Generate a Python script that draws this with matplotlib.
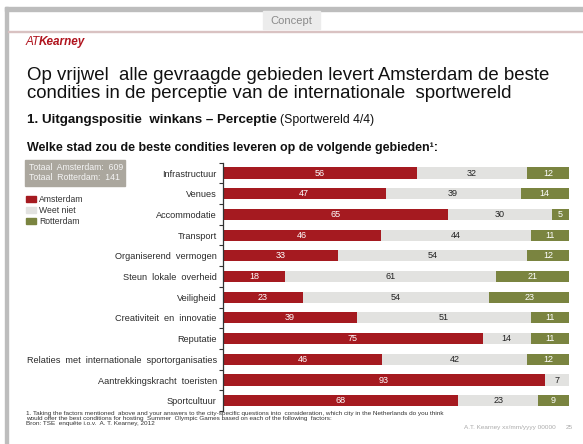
import matplotlib
matplotlib.use("Agg")
import matplotlib.pyplot as plt
from matplotlib.patches import Rectangle
import numpy as np

categories = ["Infrastructuur", "Venues", "Accommodatie", "Transport",
              "Organiserend  vermogen", "Steun  lokale  overheid", "Veiligheid",
              "Creativiteit  en  innovatie", "Reputatie",
              "Relaties  met  internationale  sportorganisaties",
              "Aantrekkingskracht  toeristen", "Sportcultuur"]
amsterdam = [56, 47, 65, 46, 33, 18, 23, 39, 75, 46, 93, 68]
weet_niet = [32, 39, 30, 44, 54, 61, 54, 51, 14, 42, 7, 23]
rotterdam = [12, 14, 5, 11, 12, 21, 23, 11, 11, 12, 0, 9]
series_names = ["Amsterdam", "Weet niet", "Rotterdam"]
colors = ["#A51A20", "#E2E2E0", "#7A8440"]
label_colors = ["white", "#222222", "white"]

W, H = 583, 444
plt.rcParams['font.family'] = ['Liberation Sans', 'DejaVu Sans']
fig = plt.figure(figsize=(W / 100, H / 100), dpi=100)
fig.patch.set_facecolor("white")
renderer = fig.canvas.get_renderer()

def fx(x):
    return x / W

def fy(y):
    return 1 - y / H

def rect(x0, y0, x1, y1, color, z=0):
    fig.patches.append(Rectangle((fx(x0), fy(y1)), fx(x1) - fx(x0), fy(y0) - fy(y1),
                                 transform=fig.transFigure, color=color, zorder=z))

def right_px(t):
    bb = t.get_window_extent(renderer=renderer)
    return bb.x1

# slide frame
rect(5, 7, 8, 444, "#BDBDBD")
rect(5, 7, 583, 11.5, "#BDBDBD")
rect(263, 11.5, 320, 29, "#ECECEC")
fig.text(fx(291.5), fy(20.5), "Concept", ha="center", va="center", fontsize=8, color="#8A8A8A")
rect(8, 31, 583, 32.3, "#D9C2C2")

# logo
t = fig.text(fx(26), fy(45), "AT", ha="left", va="baseline", fontsize=8.5, color="#B0141E", style="italic")
fig.text(fx(right_px(t) - 1.0), fy(45), "Kearney", ha="left", va="baseline", fontsize=8.5,
         color="#B0141E", style="italic", fontweight="bold")

# title
fig.text(fx(27), fy(80), "Op vrijwel  alle gevraagde gebieden levert Amsterdam de beste",
         ha="left", va="baseline", fontsize=13.4, color="#111111")
fig.text(fx(27), fy(98.5), "condities in de perceptie van de internationale  sportwereld",
         ha="left", va="baseline", fontsize=13.4, color="#111111")

# subtitle
t = fig.text(fx(27), fy(123), "1. Uitgangspositie  winkans \u2013 Perceptie", ha="left", va="baseline",
             fontsize=9.6, fontweight="bold", color="#111111")
fig.text(fx(right_px(t) + 3), fy(123), "(Sportwereld 4/4)", ha="left", va="baseline",
         fontsize=8.8, color="#111111")

fig.text(fx(27), fy(151.5), "Welke stad zou de beste condities leveren op de volgende gebieden\u00b9:",
         ha="left", va="baseline", fontsize=9.0, fontweight="bold", color="#111111")

# totals box
rect(25, 160, 125, 186, "#ABA79E", 1)
fig.text(fx(29), fy(167.5), "Totaal  Amsterdam:  609", ha="left", va="center", fontsize=6.3, color="#F4F4F4")
fig.text(fx(29), fy(177.5), "Totaal  Rotterdam:  141", ha="left", va="center", fontsize=6.3, color="#F4F4F4")

# legend
for i, (nm, c) in enumerate(zip(series_names, colors)):
    yc = 199 + 11 * i
    rect(26, yc - 3, 36, yc + 3, c, 1)
    fig.text(fx(39), fy(yc), nm, ha="left", va="center", fontsize=6.2, color="#333333")

# chart
top, spacing = 173, 20.7
n = len(categories)
ax_top = top - spacing / 2
ax_bot = top + spacing * (n - 1) + spacing / 2
ax = fig.add_axes([fx(223), fy(ax_bot), fx(569) - fx(223), fy(ax_top) - fy(ax_bot)])
ax.set_facecolor("none")

data = np.array([amsterdam, weet_niet, rotterdam], dtype=float)
totals = data.sum(axis=0)
frac = data / totals * 100
y = np.arange(n)
left = np.zeros(n)
for s in range(3):
    ax.barh(y, frac[s], left=left, height=0.54, color=colors[s], edgecolor="none")
    for i in range(n):
        if data[s, i] > 0:
            ax.text(left[i] + frac[s, i] / 2, y[i], f"{int(data[s, i])}", ha="center", va="center",
                    fontsize=6.5, color=label_colors[s])
    left += frac[s]

ax.set_xlim(0, 100)
ax.set_ylim(n - 0.5, -0.5)
ax.set_yticks(y)
ax.set_yticklabels(categories, fontsize=6.6, color="#2A2A2A")
ax.set_yticks(np.arange(n + 1) - 0.5, minor=True)
ax.tick_params(axis="y", which="major", length=0, pad=4.5)
ax.tick_params(axis="y", which="minor", length=3, width=0.8, color="#333333", direction="out")
ax.set_xticks([])
for sp in ["top", "right", "bottom"]:
    ax.spines[sp].set_visible(False)
ax.spines["left"].set_color("#333333")
ax.spines["left"].set_linewidth(0.9)

# footnotes
fn = ["1. Taking the factors mentioned  above and your answers to the city-specific questions into  consideration, which city in the Netherlands do you think",
      "would offer the best conditions for hosting  Summer  Olympic Games based on each of the following  factors:",
      "Bron: TSE  enqu\u00eate i.o.v.  A. T. Kearney, 2012"]
for i, line in enumerate(fn):
    fig.text(fx(26), fy(415 + 5 * i), line, ha="left", va="baseline", fontsize=4.6, color="#333333")

fig.text(fx(556), fy(429), "A.T. Kearney xx/mm/yyyy 00000", ha="right", va="baseline", fontsize=4.6,
         color="#AAAAAA")
fig.text(fx(569), fy(429), "25", ha="center", va="baseline", fontsize=4.6, color="#AAAAAA")

fig.savefig("out.png", dpi=100, facecolor="white")
